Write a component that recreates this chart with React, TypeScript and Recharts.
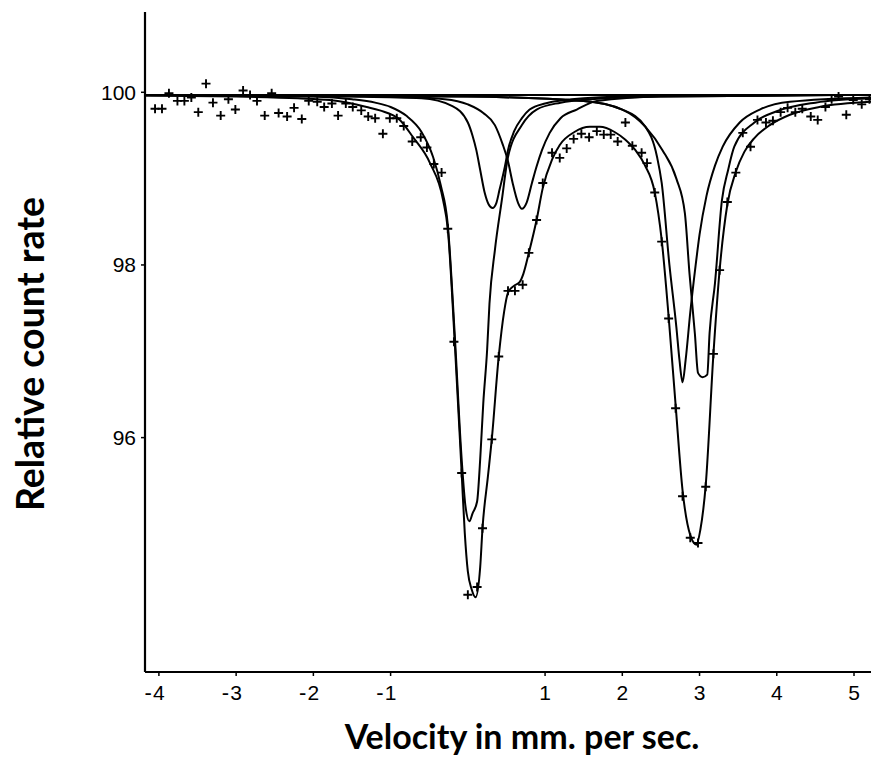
import React from "react";
import { ComposedChart, Line, Scatter, XAxis, YAxis } from "recharts";

const xTicks = [-4, -3, -2, -1, 1, 2, 3, 4, 5];
const yTicks = [96, 98, 100];

// measured count rate (velocity mm/s, relative count rate)
const measured: [number, number][] = [
	[-4.05, 99.81], [-3.96, 99.81], [-3.87, 99.99], [-3.76, 99.9], [-3.67, 99.9],
	[-3.58, 99.94], [-3.49, 99.77], [-3.39, 100.1], [-3.3, 99.88], [-3.2, 99.73],
	[-3.1, 99.92], [-3.01, 99.8], [-2.91, 100.02], [-2.82, 99.97], [-2.73, 99.9],
	[-2.63, 99.73], [-2.54, 99.99], [-2.45, 99.76], [-2.34, 99.72], [-2.25, 99.82],
	[-2.15, 99.69], [-2.06, 99.9], [-1.95, 99.89], [-1.86, 99.83], [-1.76, 99.87],
	[-1.68, 99.73], [-1.58, 99.87], [-1.49, 99.83], [-1.38, 99.79], [-1.29, 99.72],
	[-1.2, 99.7], [-1.1, 99.52], [-1.01, 99.7], [-0.92, 99.7], [-0.83, 99.61],
	[-0.72, 99.43], [-0.61, 99.48], [-0.53, 99.36], [-0.44, 99.17], [-0.34, 99.07],
	[-0.26, 98.42], [-0.18, 97.11], [-0.08, 95.59], [0.0, 94.18], [0.12, 94.27],
	[0.19, 94.95], [0.31, 95.98], [0.4, 96.94], [0.52, 97.7], [0.61, 97.7],
	[0.71, 97.77], [0.79, 98.14], [0.89, 98.52], [0.97, 98.95], [1.09, 99.3],
	[1.19, 99.24], [1.28, 99.35], [1.37, 99.46], [1.47, 99.52], [1.57, 99.48],
	[1.67, 99.55], [1.76, 99.51], [1.85, 99.51], [1.94, 99.43], [2.04, 99.65],
	[2.13, 99.38], [2.25, 99.3], [2.32, 99.18], [2.42, 98.84], [2.51, 98.27],
	[2.6, 97.38], [2.69, 96.34], [2.78, 95.32], [2.88, 94.84], [2.98, 94.78],
	[3.08, 95.43], [3.18, 96.97], [3.26, 97.94], [3.36, 98.73], [3.47, 99.07],
	[3.56, 99.53], [3.66, 99.37], [3.75, 99.68], [3.86, 99.65], [3.95, 99.67],
	[4.05, 99.77], [4.14, 99.82], [4.24, 99.77], [4.33, 99.81], [4.44, 99.72],
	[4.53, 99.68], [4.63, 99.83], [4.71, 99.92], [4.8, 99.95], [4.9, 99.74],
	[4.99, 99.91], [5.1, 99.86], [5.2, 99.92],
];

// fitted envelope
const totalFit: [number, number][] = [
	[-4.18, 99.96], [-3.0, 99.95], [-2.2, 99.93], [-1.79, 99.91], [-1.31, 99.83],
	[-1.14, 99.79], [-0.88, 99.68], [-0.71, 99.48], [-0.49, 99.18], [-0.32, 98.75],
	[-0.26, 98.42], [-0.17, 97.11], [-0.08, 95.59], [-0.04, 94.9], [0.0, 94.45],
	[0.05, 94.24], [0.1, 94.15], [0.16, 94.5], [0.19, 94.95], [0.26, 95.55],
	[0.31, 95.98], [0.4, 96.94], [0.47, 97.46], [0.52, 97.68], [0.6, 97.76],
	[0.67, 97.8], [0.72, 97.9], [0.79, 98.14], [0.89, 98.52], [0.97, 98.89],
	[1.09, 99.22], [1.19, 99.39], [1.38, 99.54], [1.58, 99.6], [1.71, 99.6],
	[1.9, 99.54], [2.04, 99.45], [2.17, 99.33], [2.29, 99.16], [2.42, 98.84],
	[2.51, 98.29], [2.6, 97.4], [2.69, 96.38], [2.78, 95.39], [2.88, 94.87],
	[2.96, 94.76], [3.01, 94.93], [3.08, 95.45], [3.18, 96.97], [3.26, 97.94],
	[3.36, 98.7], [3.47, 99.08], [3.58, 99.31], [3.71, 99.47], [3.91, 99.62],
	[4.17, 99.74], [4.55, 99.83], [5.22, 99.89],
];

const baseline: [number, number][] = [[-4.18, 99.97], [5.22, 99.97]];

const peakA: [number, number][] = [
	[-4.18, 99.97], [-3.0, 99.96], [-2.0, 99.95], [-1.5, 99.92], [-1.2, 99.88],
	[-1.0, 99.83], [-0.8, 99.73], [-0.6, 99.54], [-0.45, 99.25], [-0.35, 98.92],
	[-0.26, 98.47], [-0.17, 97.2], [-0.08, 95.75], [-0.03, 95.2], [0.02, 95.03],
	[0.06, 95.12], [0.12, 95.26], [0.16, 95.75], [0.2, 96.4], [0.25, 97.02],
	[0.28, 97.55], [0.35, 98.17], [0.44, 98.75], [0.52, 99.25], [0.7, 99.62],
	[0.89, 99.8], [1.2, 99.88], [1.6, 99.92], [2.5, 99.95], [5.22, 99.97],
];

const peakB: [number, number][] = [
	[-4.18, 99.97], [-1.5, 99.95], [-0.6, 99.93], [-0.2, 99.84], [0.0, 99.65],
	[0.06, 99.5], [0.11, 99.33], [0.16, 99.1], [0.22, 98.83], [0.27, 98.7],
	[0.32, 98.66], [0.37, 98.72], [0.41, 98.87], [0.48, 99.14], [0.52, 99.33],
	[0.6, 99.55], [0.7, 99.7], [0.8, 99.8], [1.0, 99.87], [1.5, 99.93],
	[2.5, 99.96], [5.22, 99.97],
];

const peakC: [number, number][] = [
	[-4.18, 99.97], [-1.0, 99.95], [-0.3, 99.92], [0.0, 99.86], [0.2, 99.76],
	[0.35, 99.62], [0.45, 99.4], [0.52, 99.2], [0.58, 98.95], [0.65, 98.72],
	[0.7, 98.65], [0.76, 98.72], [0.83, 98.95], [0.89, 99.14], [0.96, 99.33],
	[1.06, 99.53], [1.2, 99.7], [1.41, 99.8], [1.67, 99.9], [2.5, 99.95],
	[5.22, 99.97],
];

const peakD: [number, number][] = [
	[-4.18, 99.97], [0.0, 99.95], [1.5, 99.9], [2.0, 99.8], [2.3, 99.6],
	[2.45, 99.25], [2.51, 98.95], [2.61, 98.0], [2.7, 97.28], [2.74, 96.9],
	[2.78, 96.64], [2.82, 96.9], [2.88, 97.45], [2.95, 98.0], [3.0, 98.35],
	[3.09, 98.8], [3.2, 99.15], [3.3, 99.37], [3.52, 99.65], [3.78, 99.8],
	[4.17, 99.89], [5.22, 99.94],
];

const peakE: [number, number][] = [
	[-4.18, 99.97], [0.0, 99.95], [1.5, 99.9], [2.0, 99.8], [2.3, 99.6],
	[2.52, 99.33], [2.7, 99.0], [2.81, 98.6], [2.87, 97.9], [2.94, 97.2],
	[2.98, 96.75], [3.04, 96.7], [3.1, 96.73], [3.13, 97.21], [3.2, 97.79],
	[3.29, 98.75], [3.37, 99.1], [3.45, 99.37], [3.71, 99.65], [4.0, 99.78],
	[4.5, 99.88], [5.22, 99.93],
];

const toRows = (pts: [number, number][]) => pts.map(([x, v]) => ({ x, v }));

const xDomain = [-4.18, 5.22];
const yDomain = [93.285, 100.93];

const tickFont = "'Liberation Sans', Arial, sans-serif";
const titleFont = "Lato, 'Noto Sans', sans-serif";

const XTick = (props: any) => {
	const { x, y, payload } = props;
	const val = payload.value as number;
	return (
		<g>
			{val < 0 && (
				<text x={x - 7} y={y + 22} textAnchor="end" fontSize={22} fontFamily={tickFont} fill="#000">
					-
				</text>
			)}
			<text x={x} y={y + 22} textAnchor="middle" fontSize={21} fontFamily={tickFont} fill="#000">
				{Math.abs(val)}
			</text>
		</g>
	);
};

const Plus = (props: any) => {
	const { cx, cy } = props;
	if (cx == null || cy == null) return null;
	return (
		<path
			d={`M${cx - 4.5},${cy}H${cx + 4.5}M${cx},${cy - 4.5}V${cy + 4.5}`}
			stroke="#000"
			strokeWidth={1.9}
			fill="none"
		/>
	);
};

const curves = [baseline, peakA, peakB, peakC, peakD, peakE, totalFit];

export default function App() {
	return (
		<div style={{ position: "absolute", left: 0, top: 0, background: "#fff" }}>
			<ComposedChart width={873} height={758} margin={{ top: 12, right: 2, bottom: 0, left: 0 }}>
				<XAxis
					type="number"
					dataKey="x"
					domain={xDomain}
					allowDataOverflow
					ticks={xTicks}
					interval={0}
					height={86}
					tickSize={4}
					axisLine={{ stroke: "#000", strokeWidth: 2.2 }}
					tickLine={{ stroke: "#000", strokeWidth: 1.5 }}
					tick={<XTick />}
					label={{
						value: "Velocity in mm. per sec.",
						position: "insideBottom",
						offset: 9,
						dx: 14,
						style: { fontSize: 34, fontWeight: 700, fontFamily: titleFont, fill: "#000" },
					}}
				/>
				<XAxis
					xAxisId="top"
					orientation="top"
					type="number"
					domain={xDomain}
					allowDataOverflow
					height={0}
					tick={false}
					tickLine={false}
					axisLine={{ stroke: "#000", strokeWidth: 2 }}
				/>
				<YAxis
					type="number"
					domain={yDomain}
					allowDataOverflow
					ticks={yTicks}
					interval={0}
					width={145}
					tickSize={4}
					tickMargin={5}
					axisLine={{ stroke: "#000", strokeWidth: 2.2 }}
					tickLine={{ stroke: "#000", strokeWidth: 1.5 }}
					tick={{ fontSize: 21, fontFamily: tickFont, fill: "#000" }}
					label={{
						value: "Relative count rate",
						angle: -90,
						position: "center",
						dx: -42,
						dy: 12,
						style: { fontSize: 37.5, fontWeight: 700, fontFamily: titleFont, fill: "#000" },
					}}
				/>
				<YAxis
					yAxisId="right"
					orientation="right"
					type="number"
					domain={yDomain}
					allowDataOverflow
					width={0}
					tick={false}
					tickLine={false}
					axisLine={{ stroke: "#000", strokeWidth: 2 }}
				/>
				{curves.map((pts, i) => (
					<Line
						key={i}
						data={toRows(pts)}
						dataKey="v"
						type="monotone"
						stroke="#000"
						strokeWidth={2}
						dot={false}
						activeDot={false}
						isAnimationActive={false}
					/>
				))}
				<Scatter data={toRows(measured)} dataKey="v" shape={<Plus />} isAnimationActive={false} />
			</ComposedChart>
		</div>
	);
}
